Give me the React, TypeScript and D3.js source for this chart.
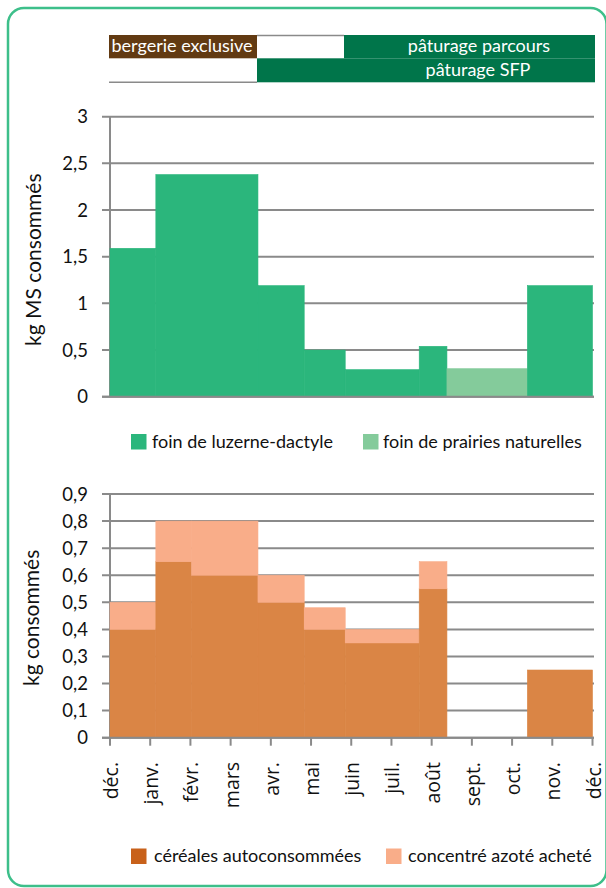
import React from "react";
import * as d3 from "d3";

const months = ["déc.", "janv.", "févr.", "mars", "avr.", "mai", "juin", "juil.", "août", "sept.", "oct.", "nov.", "déc."];

// top chart: segments in month units
const hayStart = [0, 1.14, 3.68, 4.83, 5.85, 7.69, 8.38, 10.38];
const hayEnd = [1.14, 3.68, 4.83, 5.85, 7.69, 8.38, 10.38, 12];
const luzerne = [1.59, 2.38, 1.19, 0.5, 0.29, 0.54, 0, 1.19];
const prairies = [0, 0, 0, 0, 0, 0, 0.3, 0];
const topTicks = [0, 0.5, 1, 1.5, 2, 2.5, 3];

// bottom chart
const concStart = [0, 1.14, 2.03, 3.68, 4.83, 5.85, 7.69, 8.38, 10.38];
const concEnd = [1.14, 2.03, 3.68, 4.83, 5.85, 7.69, 8.38, 10.38, 12];
const cereales = [0.4, 0.65, 0.6, 0.5, 0.4, 0.35, 0.55, 0, 0.25];
const azote = [0.1, 0.15, 0.2, 0.1, 0.08, 0.05, 0.1, 0, 0];
const bottomTicks = [0, 0.1, 0.2, 0.3, 0.4, 0.5, 0.6, 0.7, 0.8, 0.9];

const C = {
  green: "#2bb67c",
  lightGreen: "#84cb9b",
  darkGreen: "#00754a",
  brown: "#623a12",
  orange: "#da8545",
  lightOrange: "#f9ad89",
  legendOrange: "#c8611a",
  grid: "#8a8a8a",
  frame: "#3dbf8a",
};

const FONT = "Lato, 'Open Sans', sans-serif";
const fmt = (v: number) => d3.format(".1~f")(v).replace(".", ",");

export default function App() {
  const x = d3.scaleLinear().domain([0, 12]).range([110, 592.5]);
  const yTop = d3.scaleLinear().domain([0, 3]).range([396.7, 116.7]);
  const yBot = d3.scaleLinear().domain([0, 0.9]).range([737.7, 494]);
  const x0 = 102;
  const x1 = 594;

  return (
    <svg width={606} height={888} style={{ position: "absolute", left: 0, top: 0 }} fontFamily={FONT}>
      <rect x={0} y={0} width={606} height={888} fill="#fff" />
      <rect x={8} y={8} width={598.5} height={878} rx={16} fill="none" stroke={C.frame} strokeWidth={2.5} />

      {/* top band */}
      <rect x={109} y={35} width={148} height={23.3} fill={C.brown} />
      <text x={111.5} y={52} fill="#fff" fontSize={18}>bergerie exclusive</text>
      <line x1={257} x2={344} y1={35.6} y2={35.6} stroke={C.grid} strokeWidth={1.5} />
      <rect x={344} y={35} width={251} height={23.3} fill={C.darkGreen} />
      <rect x={257} y={58.3} width={338} height={24} fill={C.darkGreen} />
      <line x1={109} x2={257} y1={82.3} y2={82.3} stroke={C.grid} strokeWidth={1.5} />
      <text x={479} y={52} fill="#fff" fontSize={18} textAnchor="middle">pâturage parcours</text>
      <text x={478} y={76} fill="#fff" fontSize={18} textAnchor="middle">pâturage SFP</text>

      {/* top chart grid */}
      {topTicks.map((t) => (
        <g key={"tg" + t}>
          <line x1={x0} x2={x1} y1={yTop(t)} y2={yTop(t)} stroke={C.grid} strokeWidth={2} />
          <text x={88} y={yTop(t) + 6.5} textAnchor="end" fontSize={18.5} fill="#111">{fmt(t)}</text>
        </g>
      ))}
      <line x1={110} x2={110} y1={yTop(3)} y2={yTop(0)} stroke={C.grid} strokeWidth={2} />
      {hayStart.map((s, i) => (
        <g key={"h" + i}>
          {luzerne[i] > 0 && (
            <rect x={x(s)} width={x(hayEnd[i]) - x(s)} y={yTop(luzerne[i])} height={yTop(0) - yTop(luzerne[i])} fill={C.green} stroke={C.green} strokeWidth={0.6} />
          )}
          {prairies[i] > 0 && (
            <rect x={x(s)} width={x(hayEnd[i]) - x(s)} y={yTop(luzerne[i] + prairies[i])} height={yTop(luzerne[i]) - yTop(luzerne[i] + prairies[i])} fill={C.lightGreen} stroke={C.lightGreen} strokeWidth={0.6} />
          )}
        </g>
      ))}
      <line x1={x0} x2={x1} y1={yTop(0)} y2={yTop(0)} stroke={C.grid} strokeWidth={2} />
      <text transform={`translate(41,${(yTop(0) + yTop(3)) / 2 + 3}) rotate(-90)`} textAnchor="middle" fontSize={21} fill="#111">kg MS consommés</text>

      {/* legend 1 */}
      <rect x={131} y={434} width={15.5} height={15.5} fill={C.green} />
      <text x={152} y={447.5} fontSize={18} fill="#111">foin de luzerne-dactyle</text>
      <rect x={363} y={434} width={15.5} height={15.5} fill={C.lightGreen} />
      <text x={383} y={447.5} fontSize={18} fill="#111">foin de prairies naturelles</text>

      {/* bottom chart */}
      {bottomTicks.map((t) => (
        <g key={"bg" + t}>
          <line x1={x0} x2={x1} y1={yBot(t)} y2={yBot(t)} stroke={C.grid} strokeWidth={2} />
          <text x={88} y={yBot(t) + 6.5} textAnchor="end" fontSize={18.5} fill="#111">{fmt(t)}</text>
        </g>
      ))}
      <line x1={110} x2={110} y1={yBot(0.9)} y2={yBot(0)} stroke={C.grid} strokeWidth={2} />
      {concStart.map((s, i) => (
        <g key={"c" + i}>
          {cereales[i] > 0 && (
            <rect x={x(s)} width={x(concEnd[i]) - x(s)} y={yBot(cereales[i])} height={yBot(0) - yBot(cereales[i])} fill={C.orange} stroke={C.orange} strokeWidth={0.6} />
          )}
          {azote[i] > 0 && (
            <rect x={x(s)} width={x(concEnd[i]) - x(s)} y={yBot(cereales[i] + azote[i])} height={yBot(cereales[i]) - yBot(cereales[i] + azote[i])} fill={C.lightOrange} stroke={C.lightOrange} strokeWidth={0.6} />
          )}
        </g>
      ))}
      <line x1={x0} x2={x1} y1={yBot(0)} y2={yBot(0)} stroke={C.grid} strokeWidth={2} />
      {months.map((m, i) => (
        <g key={"m" + i}>
          <line x1={x(i)} x2={x(i)} y1={yBot(0)} y2={yBot(0) + 8} stroke={C.grid} strokeWidth={2} />
          <text transform={`translate(${x(i) + 8},${762}) rotate(-90)`} textAnchor="end" fontSize={19.5} fontFamily="'Open Sans', sans-serif" fill="#111">{m}</text>
        </g>
      ))}
      <text transform={`translate(39,${(yBot(0) + yBot(0.9)) / 2 + 2}) rotate(-90)`} textAnchor="middle" fontSize={21} fill="#111">kg consommés</text>

      {/* legend 2 */}
      <rect x={131} y={848.5} width={15.5} height={15.5} fill={C.legendOrange} />
      <text x={154} y={862} fontSize={18} fill="#111">céréales autoconsommées</text>
      <rect x={386} y={848.5} width={15.5} height={15.5} fill={C.lightOrange} />
      <text x={408} y={862} fontSize={18} fill="#111">concentré azoté acheté</text>
    </svg>
  );
}
